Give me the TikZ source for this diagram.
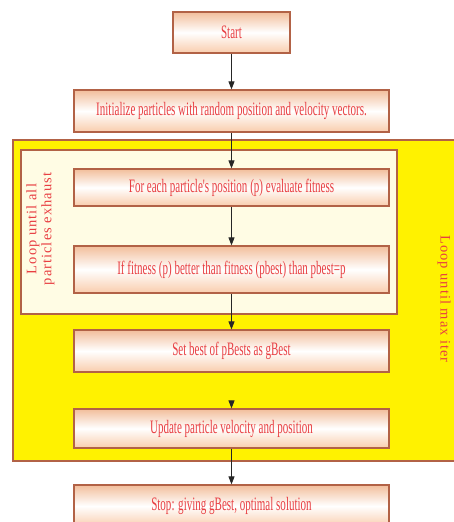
\documentclass[tikz,border=0pt]{standalone}
\usepackage{fontspec}
\setmainfont{Liberation Serif}
\newfontfamily\boxfont[FakeStretch=0.58]{Liberation Serif}
\newfontfamily\loopfont[LetterSpace=7]{Liberation Serif}
\usetikzlibrary{arrows.meta}
\definecolor{peach}{RGB}{242,190,155}
\definecolor{rim}{RGB}{178,98,70}
\definecolor{ink}{RGB}{232,62,66}
\definecolor{loopyellow}{RGB}{255,242,0}
\definecolor{cream}{RGB}{255,252,228}

\tikzset{
  pbox/.style={draw=rim, line width=1.2pt, top color=peach, bottom color=peach!110!rim!90,
    middle color=white, text=ink, font=\boxfont\fontsize{19}{22}\selectfont,
    minimum width=315pt, inner sep=0pt},
  flow/.style={-{Triangle[length=8pt,width=6pt]}, thick, black!85},
  looptext/.style={text=ink, font=\loopfont\fontsize{14.5}{14}\selectfont, align=center, inner sep=1pt}
}

\begin{document}
\begin{tikzpicture}[x=1pt,y=-1pt]
   \useasboundingbox (0,0) rectangle (453,522);
   % loop boxes
   \filldraw[draw=rim,fill=loopyellow,line width=1.2pt] (13,140) rectangle (475,461);
   \filldraw[draw=rim,fill=cream,line width=1.2pt] (21,150) rectangle (397,314);
   \node[looptext,rotate=90] (inner) at (40.5,229) {Loop until all\\[1pt] particles exhaust};
   \node[looptext,rotate=-90,anchor=north] (outer) at (452,299) {Loop until max iter};
   % steps
   \node[pbox,minimum width=117pt,minimum height=41pt] (start) at (231.5,32.5) {Start};
   \node[pbox,minimum height=42pt] (init) at (231.5,111) {Initialize particles with random position and velocity vectors.};
   \node[pbox,minimum height=37pt] (each) at (231.5,187.5) {For each particle's position (p) evaluate fitness};
   \node[pbox,minimum height=47pt] (iff) at (231.5,269.5) {If fitness (p) better than fitness (pbest) than pbest=p};
   \node[pbox,minimum height=42pt] (gbest) at (231.5,351) {Set best of pBests as gBest};
   \node[pbox,minimum height=39pt] (update) at (231.5,428.5) {Update particle velocity and position};
   \node[pbox,minimum height=42pt] (stop) at (231.5,506) {Stop: giving gBest, optimal solution};
   % arrows
   \draw[flow] (start) -- (init);
   \draw[flow] (init) -- (each);
   \draw[flow] (each) -- (iff);
   \draw[flow] (iff) -- (gbest);
   \draw[flow,shorten <=28pt] (gbest) -- (update);
   \draw[flow] (update) -- (stop);
\end{tikzpicture}
\end{document}
